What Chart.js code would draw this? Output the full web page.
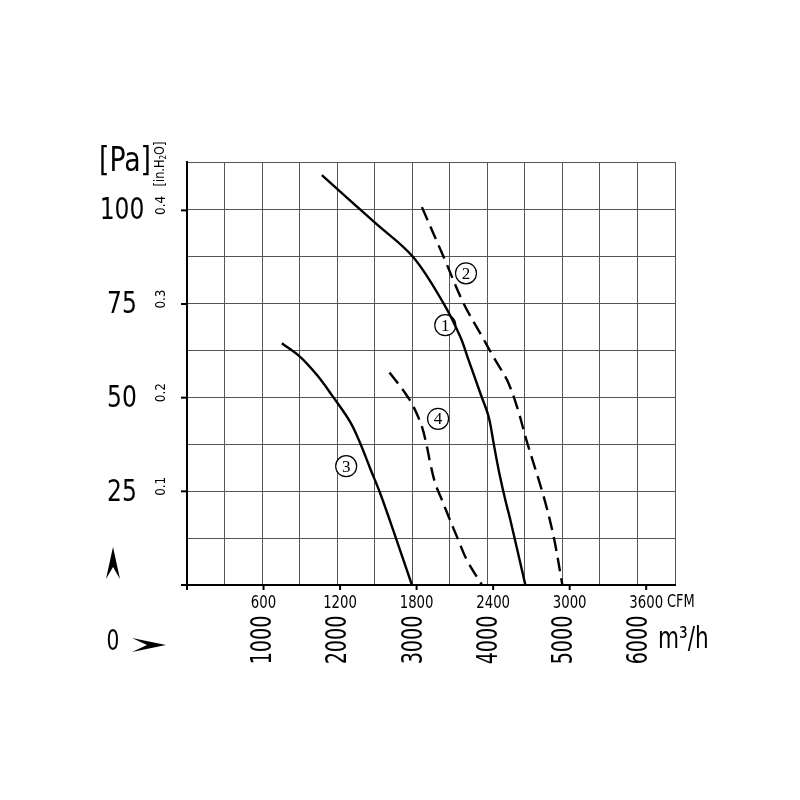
<!DOCTYPE html>
<html>
<head>
<meta charset="utf-8">
<script src="https://cdn.jsdelivr.net/npm/chart.js"></script>
<style>
  body { margin: 0; background: #fff; }
  #wrap { width: 800px; height: 800px; }
</style>
</head>
<body>
<div id="wrap"><canvas id="fanChart" width="800" height="800"></canvas></div>
<script>
// curve values, flow in m3/h and pressure in Pa
var flow1 = [1796, 2507, 3009, 3417, 3640, 3751, 3907, 4017, 4084, 4151, 4240, 4307, 4507];
var pa1 = [109.0, 96.3, 87.3, 74.9, 66.0, 59.8, 51.0, 44.8, 37.7, 30.6, 22.6, 17.3, 0];
var flow2 = [3129, 3417, 3684, 3907, 4107, 4263, 4396, 4520, 4751, 4884, 5000];
var pa2 = [100.5, 87.3, 74.9, 66.9, 59.8, 54.5, 47.4, 38.6, 23.5, 12.8, 0];
var flow3 = [1263, 1507, 1729, 1929, 2173, 2307, 2440, 2573, 2751, 2996];
var pa3 = [64.3, 60.7, 55.9, 50.5, 43.4, 37.7, 31.0, 24.4, 14.3, 0];
var flow4 = [2697, 2907, 3017, 3129, 3196, 3240, 3307, 3396, 3484, 3613, 3729, 3929];
var pa4 = [56.5, 51.0, 47.4, 42.1, 36.8, 32.4, 27.0, 22.6, 18.2, 12.0, 6.6, 0];

var curveNames = ['1', '2', '3', '4'];
var curveLabelFlow = [3440, 3716, 2120, 3344];
var curveLabelPa = [69.1, 82.9, 31.6, 44.2];

var paTicks = [25, 50, 75, 100];
var inH2OTicks = [0.1, 0.2, 0.3, 0.4];
var cfmTicks = [600, 1200, 1800, 2400, 3000, 3600];
var m3hTicks = [1000, 2000, 3000, 4000, 5000, 6000];

var PA_PER_INH2O = 249.09;
var M3H_PER_CFM = 1.699;
var NARROW = "'Liberation Sans Narrow', 'DejaVu Sans Condensed', 'Liberation Sans', sans-serif";

function toPoints(xs, ys) {
    var pts = [];
    xs.forEach(function (x, i) {
        pts.push({ x: x, y: ys[i] });
    });
    return pts;
}

function curve(xs, ys, dashed) {
    return {
        data: toPoints(xs, ys),
        borderColor: '#000',
        borderWidth: 2.4,
        borderDash: dashed ? [14, 7] : [],
        pointRadius: 0,
        fill: false,
        tension: 0.35
    };
}

// draws condensed text, optionally turned to read bottom-up
function txt(ctx, s, x, y, size, sx, align, rotated) {
    ctx.save();
    ctx.translate(x, y);
    if (rotated) ctx.rotate(-Math.PI / 2);
    ctx.scale(sx, 1);
    ctx.font = size + 'px ' + NARROW;
    ctx.textAlign = align;
    ctx.textBaseline = 'middle';
    ctx.fillStyle = '#000';
    ctx.fillText(s, 0, 0);
    ctx.restore();
}

var labelsPlugin = {
    id: 'fanLabels',
    beforeDatasetsDraw: function (chart) {
        var ctx = chart.ctx;
        var xs = chart.scales.x, ys = chart.scales.y;
        // circled curve numbers, white behind so grid stops at them
        curveNames.forEach(function (n, i) {
            var cx = xs.getPixelForValue(curveLabelFlow[i]);
            var cy = ys.getPixelForValue(curveLabelPa[i]);
            ctx.save();
            ctx.beginPath();
            ctx.arc(cx, cy, 10.5, 0, Math.PI * 2);
            ctx.fillStyle = '#fff';
            ctx.fill();
            ctx.lineWidth = 1.2;
            ctx.strokeStyle = '#000';
            ctx.stroke();
            ctx.font = "17px 'Liberation Serif', 'DejaVu Serif', serif";
            ctx.fillStyle = '#000';
            ctx.textAlign = 'center';
            ctx.textBaseline = 'middle';
            ctx.fillText(n, cx, cy + 1);
            ctx.restore();
        });
    },
    afterDraw: function (chart) {
        var ctx = chart.ctx;
        var area = chart.chartArea;
        var xs = chart.scales.x, ys = chart.scales.y;
        var left = area.left, bottom = area.bottom;

        ctx.save();
        ctx.strokeStyle = '#000';
        ctx.lineWidth = 2;
        // small ticks on the pressure axis (in.H2O)
        [0].concat(inH2OTicks).forEach(function (v) {
            var y = ys.getPixelForValue(v * PA_PER_INH2O);
            ctx.beginPath();
            ctx.moveTo(left - 6, y);
            ctx.lineTo(left, y);
            ctx.stroke();
        });
        // small ticks on the flow axis (CFM)
        [0].concat(cfmTicks).forEach(function (v) {
            var x = xs.getPixelForValue(v * M3H_PER_CFM);
            ctx.beginPath();
            ctx.moveTo(x, bottom);
            ctx.lineTo(x, bottom + 5);
            ctx.stroke();
        });
        ctx.restore();

        // Pa labels
        paTicks.forEach(function (v) {
            txt(ctx, String(v), left - 65, ys.getPixelForValue(v) + 2, 31, 0.84, 'center', false);
        });
        txt(ctx, '[Pa]', left - 62, area.top, 33, 0.9, 'center', false);

        // in.H2O labels, turned
        inH2OTicks.forEach(function (v) {
            txt(ctx, String(v), left - 26, ys.getPixelForValue(v * PA_PER_INH2O) - 5, 14, 0.95, 'center', true);
        });
        // [in.H2O] unit, subscript 2 drawn smaller
        ctx.save();
        ctx.translate(left - 27, area.top + 2);
        ctx.rotate(-Math.PI / 2);
        ctx.scale(0.9, 1);
        ctx.fillStyle = '#000';
        ctx.textBaseline = 'middle';
        ctx.textAlign = 'left';
        ctx.font = '14px ' + NARROW;
        var w1 = ctx.measureText('[in.H').width;
        ctx.font = '9px ' + NARROW;
        var w2 = ctx.measureText('2').width;
        ctx.font = '14px ' + NARROW;
        var w3 = ctx.measureText('O]').width;
        var sx0 = -(w1 + w2 + w3) / 2;
        ctx.fillText('[in.H', sx0, 0);
        ctx.font = '9px ' + NARROW;
        ctx.fillText('2', sx0 + w1, 4);
        ctx.font = '14px ' + NARROW;
        ctx.fillText('O]', sx0 + w1 + w2, 0);
        ctx.restore();

        // CFM labels
        cfmTicks.forEach(function (v) {
            txt(ctx, String(v), xs.getPixelForValue(v * M3H_PER_CFM), bottom + 18, 18, 0.82, 'center', false);
        });
        txt(ctx, 'CFM', area.right - 8, bottom + 18, 17, 0.85, 'left', false);

        // m3/h labels, turned
        m3hTicks.forEach(function (v) {
            txt(ctx, String(v), xs.getPixelForValue(v) + 2, bottom + 55, 28, 0.76, 'center', true);
        });
        txt(ctx, 'm\u00b3/h', area.right - 17, bottom + 55, 30, 0.8, 'left', false);

        // origin zero and the two direction arrows
        txt(ctx, '0', left - 74, bottom + 58, 28, 0.8, 'center', false);
        ctx.save();
        ctx.fillStyle = '#000';
        ctx.beginPath();
        ctx.moveTo(left - 74, bottom - 38);
        ctx.lineTo(left - 67, bottom - 6);
        ctx.lineTo(left - 74, bottom - 18);
        ctx.lineTo(left - 81, bottom - 6);
        ctx.closePath();
        ctx.fill();
        ctx.beginPath();
        ctx.moveTo(left - 21, bottom + 60);
        ctx.lineTo(left - 55, bottom + 53);
        ctx.lineTo(left - 40, bottom + 60);
        ctx.lineTo(left - 55, bottom + 67);
        ctx.closePath();
        ctx.fill();
        ctx.restore();
    }
};

var ctx = document.getElementById('fanChart').getContext('2d');
var fanChart = new Chart(ctx, {
    type: 'line',
    data: {
        datasets: [
            curve(flow1, pa1, false),
            curve(flow2, pa2, true),
            curve(flow3, pa3, false),
            curve(flow4, pa4, true)
        ]
    },
    options: {
        responsive: false,
        animation: false,
        layout: { padding: { left: 187, top: 162, right: 125, bottom: 215 } },
        plugins: { legend: { display: false }, tooltip: { enabled: false } },
        scales: {
            x: {
                type: 'linear',
                min: 0,
                max: 6500,
                ticks: { stepSize: 500, display: false },
                grid: { color: '#555', lineWidth: 1, drawTicks: false },
                border: { display: true, color: '#000', width: 2 }
            },
            y: {
                type: 'linear',
                min: 0,
                max: 112.5,
                ticks: { stepSize: 12.5, display: false },
                grid: { color: '#555', lineWidth: 1, drawTicks: false },
                border: { display: true, color: '#000', width: 2 }
            }
        }
    },
    plugins: [labelsPlugin]
});
</script>
</body>
</html>
